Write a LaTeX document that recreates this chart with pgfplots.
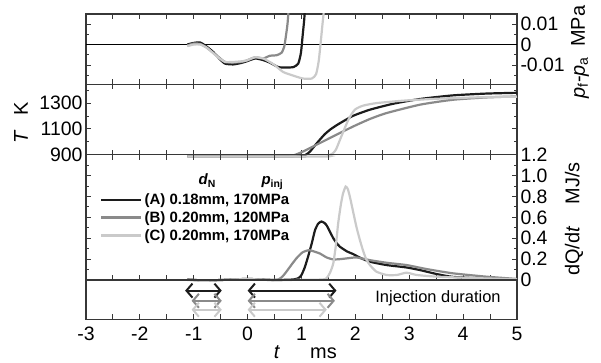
\documentclass[border=0pt]{standalone}
\usepackage{pgfplots}
\pgfplotsset{compat=1.18}
\usepackage{fontspec}
\setmainfont{Liberation Sans}
\usetikzlibrary{arrows.meta}

\definecolor{serA}{RGB}{28,28,28}
\definecolor{serB}{RGB}{138,138,138}
\definecolor{serC}{RGB}{202,202,202}
\definecolor{frame}{RGB}{55,55,55}

\newcommand{\tickfont}{\fontsize{19.5}{19.5}\selectfont}
\newcommand{\labfont}{\fontsize{20}{20}\selectfont}
\newcommand{\legfont}{\fontsize{15}{15}\selectfont\bfseries}

\pgfplotsset{
  panel/.style={
    scale only axis, width=431bp,
    xmin=-3, xmax=5,
    axis line style={frame, line width=1.3bp},
    tick style={frame, line width=1bp},
    tick align=inside,
    major tick length=5bp, minor tick length=3bp,
    xtick={-3,-2.5,...,5},
    xticklabels={},
    ticklabel style={font=\tickfont},
    /pgf/number format/assume math mode=true,
    scaled y ticks=false,
    ytick pos=both,
  },
  curve/.style={line width=2.2bp, smooth, tension=0.35},
}

\begin{document}
\begin{tikzpicture}
\useasboundingbox (0bp,0bp) rectangle (601bp,363bp);

% pressure difference p_f - p_a
\begin{axis}[panel, at={(86bp,278.7bp)}, anchor=south west, height=70.3bp,
  ymin=-0.0194, ymax=0.0149,
  ytick={-0.01,0,0.01}, yticklabels={-0.01,0,0.01},
  minor ytick={-0.015,-0.005,0.005},
  yticklabel pos=right]
\addplot[black, line width=1.2bp] coordinates {(-3,0)(5,0)};
\addplot[serA, curve] coordinates {
 (-1.12,0.000)(-1.0,0.0008)(-0.88,0.001)(-0.76,-0.001)(-0.64,-0.0036)
 (-0.52,-0.007)(-0.42,-0.0093)(-0.27,-0.0097)(-0.12,-0.009)(-0.02,-0.0082)
 (0.14,-0.0068)(0.29,-0.0076)(0.41,-0.0088)(0.57,-0.0110)(0.72,-0.0112)
 (0.85,-0.0110)(0.94,-0.0093)(0.99,-0.004)(1.02,0.004)(1.05,0.012)(1.07,0.02)};
\addplot[serB, curve] coordinates {
 (-1.12,-0.0005)(-1.0,0.0005)(-0.88,0.0003)(-0.76,-0.0015)(-0.64,-0.004)
 (-0.52,-0.0065)(-0.42,-0.0085)(-0.27,-0.0088)(-0.12,-0.0085)(-0.02,-0.0078)
 (0.14,-0.0062)(0.29,-0.0068)(0.41,-0.0055)(0.54,-0.0052)(0.63,-0.0040)
 (0.68,-0.001)(0.71,0.004)(0.74,0.010)(0.77,0.02)};
\addplot[serC, curve] coordinates {
 (-1.12,-0.0008)(-1.0,0.0)(-0.88,0.0)(-0.76,-0.0015)(-0.64,-0.0042)
 (-0.52,-0.0068)(-0.42,-0.0085)(-0.27,-0.0085)(-0.12,-0.0082)(-0.02,-0.0078)
 (0.14,-0.0062)(0.29,-0.0068)(0.41,-0.0085)(0.50,-0.0100)(0.66,-0.0134)
 (0.85,-0.0152)(1.03,-0.0166)(1.19,-0.0166)(1.27,-0.0145)(1.32,-0.008)
 (1.36,0.002)(1.39,0.010)(1.43,0.02)};
\end{axis}

% gas temperature T
\begin{axis}[panel, at={(86bp,208.3bp)}, anchor=south west, height=70.4bp,
  ymin=900, ymax=1446, clip=false,
  ytick={900,1100,1300}, yticklabels={900,1100,1300},
  minor ytick={1000,1200,1400},
  yticklabel pos=left]
\addplot[serA, curve] coordinates {
 (-1.12,887)(0.9,887)(1.03,890)(1.10,905)(1.16,925)(1.25,972)(1.34,1016)
 (1.43,1058)(1.53,1094)(1.65,1128)(1.77,1158)(1.96,1202)(2.27,1249)
 (2.70,1295)(3.20,1332)(3.81,1360)(4.43,1374)(5.0,1380)};
\addplot[serB, curve] coordinates {
 (-1.12,887)(0.75,887)(0.85,894)(0.95,910)(1.03,925)(1.34,990)(1.65,1055)
 (1.96,1119)(2.27,1177)(2.58,1223)(3.20,1288)(3.81,1326)(4.43,1344)(5.0,1352)};
\addplot[serC, curve] coordinates {
 (-1.12,886)(1.40,886)(1.50,893)(1.58,910)(1.64,940)(1.74,1042)(1.87,1171)
 (1.99,1249)(2.14,1280)(2.39,1300)(2.89,1319)(3.51,1334)(4.43,1347)(5.0,1350)};
\end{axis}

% heat release rate dQ/dt
\begin{axis}[panel, at={(86bp,83bp)}, anchor=south west, height=125.3bp,
  ymin=0, ymax=1.2, clip=false,
  ytick={0,0.2,0.4,0.6,0.8,1.0,1.2},
  yticklabels={0,0.2,0.4,0.6,0.8,1.0,1.2},
  minor ytick={0.1,0.3,0.5,0.7,0.9,1.1},
  yticklabel pos=right,
  legend style={draw=none, fill=none, at={(axis cs:-2.74,0.597)}, anchor=west,
    inner sep=0pt, row sep=1.5bp, font=\legfont, cells={anchor=west},
    nodes={inner sep=2bp}},
  legend image code/.code={\draw[#1, line width=2.5bp] (0bp,0bp) -- (40bp,0bp);}]
\addplot[serA, curve] coordinates {
 (-1.12,0.005)(-0.8,-0.005)(-0.5,0.0)(0,0.01)(0.5,0.0)(0.85,0.005)(0.95,0.02)
 (1.0,0.048)(1.06,0.12)(1.12,0.22)(1.19,0.35)(1.25,0.476)(1.31,0.54)(1.37,0.56)
 (1.43,0.545)(1.47,0.52)(1.53,0.46)(1.59,0.40)(1.65,0.355)(1.71,0.32)(1.84,0.275)
 (1.96,0.248)(2.1,0.21)(2.27,0.175)(2.58,0.143)(2.95,0.12)(3.20,0.095)
 (3.51,0.057)(3.81,0.03)(4.43,0.013)(5.0,0.006)};
\addlegendentry{(A) 0.18mm, 170MPa}
\addplot[serB, curve] coordinates {
 (-1.12,0.005)(-0.8,-0.005)(-0.5,0.0)(0,0.01)(0.4,0.0)(0.57,0.005)(0.65,0.035)
 (0.72,0.08)(0.82,0.15)(0.91,0.21)(1.02,0.265)(1.14,0.286)(1.25,0.27)(1.34,0.254)
 (1.47,0.215)(1.59,0.197)(1.72,0.200)(1.84,0.207)(2.02,0.216)(2.27,0.19)
 (2.58,0.165)(2.95,0.143)(3.32,0.105)(3.81,0.064)(4.43,0.032)(5.0,0.01)};
\addlegendentry{(B) 0.20mm, 120MPa}
\addplot[serC, curve] coordinates {
 (-1.12,0.0)(-0.8,-0.008)(-0.5,0.0)(0,0.008)(0.5,0.0)(1.0,0.002)(1.40,0.005)
 (1.47,0.02)(1.53,0.07)(1.59,0.16)(1.64,0.34)(1.68,0.54)(1.73,0.72)(1.77,0.826)
 (1.82,0.895)(1.86,0.87)(1.90,0.793)(1.96,0.65)(2.02,0.508)(2.08,0.39)(2.14,0.286)
 (2.20,0.2)(2.27,0.143)(2.39,0.08)(2.58,0.048)(2.77,0.048)(2.95,0.07)(3.14,0.048)
 (3.51,0.032)(4.12,0.02)(5.0,0.006)};
\addlegendentry{(C) 0.20mm, 170MPa}
\end{axis}

% injection duration (pilot and main)
\begin{axis}[panel, at={(86bp,43.5bp)}, anchor=south west, height=39.5bp,
  ymin=-0.38, ymax=0, ytick=\empty, minor ytick={-0.3,-0.2,-0.1},
  xtick pos=left, xticklabels={-3,,-2,,-1,,0,,1,,2,,3,,4,,5},
  xticklabel style={yshift=-4bp},
  >={Straight Barb[length=6bp,width=14bp]}]
\addplot[serA, line width=2bp, <->] coordinates {(-1.16,-0.102)(-0.48,-0.102)};
\addplot[serA, line width=2bp, <->] coordinates {(0,-0.102)(1.65,-0.102)};
\addplot[serB, line width=2bp, <->] coordinates {(-1.04,-0.20)(-0.48,-0.20)};
\addplot[serB, line width=2bp, <->] coordinates {(0,-0.20)(1.62,-0.20)};
\addplot[serC, line width=2bp, <->] coordinates {(-1.04,-0.286)(-0.48,-0.286)};
\addplot[serC, line width=2bp, <->] coordinates {(0,-0.286)(1.47,-0.286)};
\end{axis}

% labels
\node[font=\fontsize{16.5}{16.5}\selectfont] at (438bp,65bp) {Injection duration};
\node[font=\legfont, anchor=base west] at (195bp,178bp) {\textit{d}\textsubscript{N}};
\node[font=\legfont, anchor=base west] at (258bp,178bp) {\textit{p}\textsubscript{inj}};
\node[font=\labfont, rotate=90] at (21bp,240bp) {\textit{T}\hspace{14bp}K};
\node[font=\labfont, rotate=90] at (580bp,311bp) {\textit{p}\textsubscript{f}-\textit{p}\textsubscript{a}\hspace{10bp}MPa};
\node[font=\labfont, rotate=90] at (574bp,144bp) {dQ/d\textit{t}\hspace{22bp}MJ/s};
\node[font=\labfont, anchor=base, inner sep=1bp] at (277bp,4.5bp) {\textit{t}};
\node[font=\labfont, anchor=base west, inner sep=1bp] at (309bp,4.5bp) {ms};
\end{tikzpicture}
\end{document}
